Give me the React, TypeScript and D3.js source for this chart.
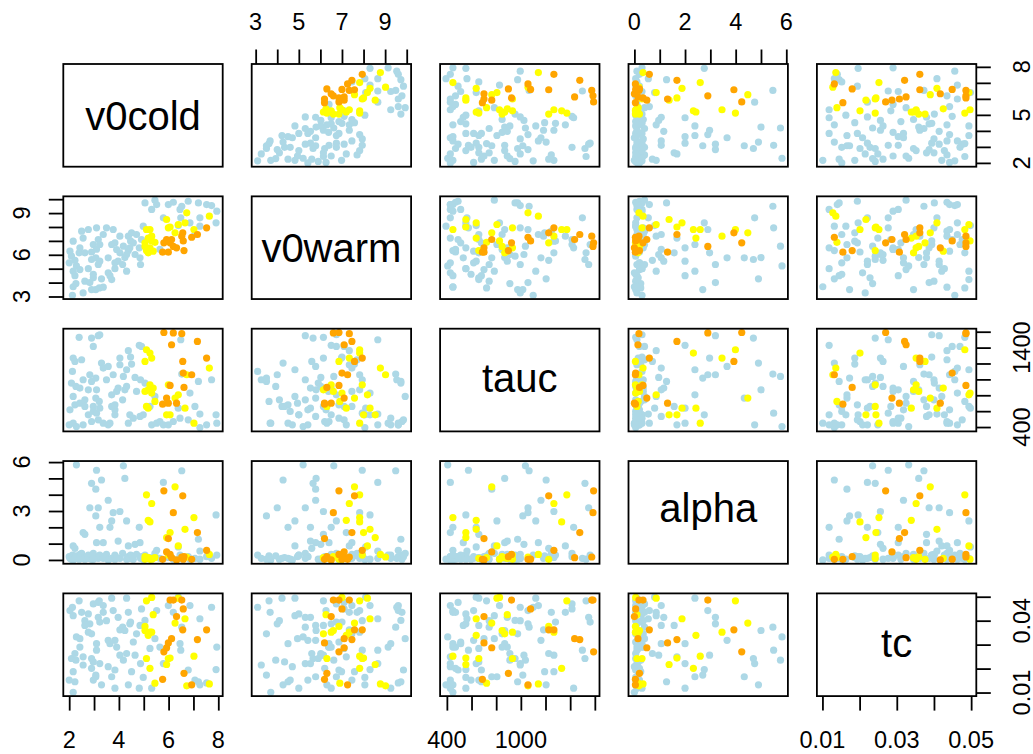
import React, { useRef, useEffect } from "react";
import * as d3 from "d3";

const varNames = ["v0cold", "v0warm", "tauc", "alpha", "tc"];

// 95 lightblue, 21 yellow, 15 orange
const group = (
  "bbbbbbbbbbbbbbbbbbb" +
  "bbbbbbbbbbbbbbbbbbbbbbbb" +
  "bbbbbbbbbbbbbbbbbbbbbbbb" +
  "bbbbbbbbbb" +
  "bbbbbbbbbb" +
  "bbbbbbbb" +
  "yyyyyyyyyyyyyyyyyyyyy" +
  "ooooooooooooooo"
).split("");

const v0cold = [
  2.0, 2.03, 2.09, 2.13, 2.16, 2.16, 2.16, 2.23, 2.23, 2.27, 2.29, 2.4, 2.43, 2.43, 2.5, 2.56, 2.56, 2.63, 2.63,
  2.77, 2.77, 2.83, 2.9, 2.9, 2.9, 2.97, 2.97, 2.97, 3.07, 3.07, 3.1, 3.1, 3.17, 3.17, 3.21, 3.23, 3.23, 3.3, 3.37, 3.37, 3.5, 3.57, 3.57,
  3.64, 3.71, 3.71, 3.77, 3.84, 3.84, 3.84, 3.91, 3.97, 4.04, 4.04, 4.15, 4.18, 4.24, 4.31, 4.31, 4.38, 4.38, 4.44, 4.47, 4.51, 4.58, 4.65, 4.71,
  4.82, 4.85, 4.87, 4.91, 4.98, 5.05, 5.32, 5.25, 5.45, 5.52,
  5.65, 5.79, 5.99, 6.19, 6.39, 6.46, 6.49, 6.53, 6.79, 6.86,
  7.06, 7.2, 7.26, 7.26, 7.53, 7.73, 7.91, 7.94,
  5.11, 5.25, 5.32, 5.05, 5.25, 5.38, 5.18, 5.05, 5.32, 5.11, 5.18, 5.45, 5.99, 5.92, 6.06, 6.26, 6.39, 6.66, 6.73, 7.02, 7.64,
  5.76, 5.81, 5.92, 5.99, 6.06, 6.12, 6.19, 6.32, 6.53, 6.57, 6.59, 6.62, 6.93, 7.16, 7.53,
];

const v0warm = [
  5.42, 6.26, 5.9, 3.09, 6.98, 4.82, 3.7, 5.6, 4.5, 3.93, 5.2, 6.14, 6.5, 4.94, 7.7, 3.26, 7.2, 4.1, 6.14,
  7.82, 5.0, 4.0, 5.66, 3.5, 6.2, 4.34, 6.74, 4.6, 5.78, 3.5, 7.94, 6.4, 5.3, 7.1, 3.62, 5.54, 6.74, 4.27, 7.46, 3.67, 7.94, 5.78, 4.7,
  4.5, 6.74, 4.22, 7.82, 5.42, 6.86, 5.0, 6.38, 5.54, 6.14, 7.34, 5.3, 6.62, 5.8, 4.82, 6.02, 7.34, 6.3, 6.5, 7.0, 7.58, 6.86, 6.02, 7.46,
  6.5, 5.78, 5.3, 7.1, 8.06, 9.73, 9.26, 7.1, 9.93, 9.61,
  6.4, 8.66, 9.61, 9.78, 8.1, 9.26, 8.66, 9.49, 9.85, 8.3,
  7.46, 9.73, 8.66, 8.06, 9.61, 9.54, 8.3, 9.14,
  7.82, 7.82, 7.34, 6.86, 6.5, 6.26, 6.14, 6.6, 7.0, 6.3, 7.2, 6.9, 7.94, 8.54, 8.0, 7.58, 8.18, 8.3, 9.02, 7.82, 8.78,
  6.19, 6.86, 7.1, 6.19, 6.86, 7.1, 6.6, 6.5, 7.34, 7.58, 7.0, 6.3, 7.26, 7.46, 7.94,
];

const tauc = [
  428, 617, 953, 1100, 1268, 785, 449, 1226, 680, 911, 407, 1529, 890, 701, 1247, 995, 428, 743, 659,
  869, 554, 1058, 1520, 974, 470, 659, 1415, 596, 764, 1016, 575, 869, 1550, 491, 722, 638, 1562, 1205, 1142, 449, 995, 1163, 428,
  449, 806, 659, 1058, 617, 680, 554, 848, 890, 1268, 1184, 743, 1037, 869, 1121, 911, 1361, 449, 554, 1281, 1193, 512, 1025, 848,
  1428, 533, 995, 1415, 554, 953, 428, 659, 785, 449,
  470, 428, 428, 470, 638, 512, 1499, 1067, 491, 827,
  659, 974, 563, 393, 428, 995, 554, 449,
  1373, 1331, 1268, 1226, 932, 890, 869, 848, 827, 659, 638, 722, 932, 554, 554, 764, 806, 638, 1058, 449, 1142,
  688, 1590, 764, 701, 924, 1436, 1585, 701, 1575, 1226, 1079, 899, 1058, 1478, 1268,
];

const alpha = [
  0.2, 0.1, 0.05, 0.3, 0.15, 0.86, 0.0, 0.71, 0.1, 0.25, 5.83, 0.05, 0.35, 0.2, 0.4, 0.1, 1.68, 0.05, 1.57,
  0.1, 0.3, 3.2, 4.7, 0.05, 0.2, 0.15, 0.4, 0.05, 4.34, 2.7, 5.5, 1.06, 3.2, 0.1, 0.25, 2.0, 0.3, 4.9, 1.06, 0.1, 0.35, 3.66, 0.0,
  2.0, 2.39, 0.1, 2.9, 0.2, 0.05, 0.3, 0.15, 1.16, 2.97, 0.1, 0.4, 5.77, 5.0, 2.39, 0.05, 0.86, 0.2, 0.1, 0.3, 0.25, 0.05, 0.96, 0.35,
  2.0, 1.06, 0.1, 0.2, 0.05, 0.3, 0.1, 0.15, 0.4, 0.59,
  0.1, 4.75, 0.15, 0.05, 0.8, 0.3, 0.1, 5.47, 0.2, 0.05,
  0.1, 1.27, 0.55, 0.05, 0.2, 0.1, 2.76, 0.3,
  3.99, 2.33, 3.46, 0.04, 0.04, 0.1, 0.14, 0.2, 0.05, 0.1, 2.43, 0.15, 0.3, 1.37, 1.68, 4.48, 0.86, 1.88, 0.18, 2.6, 0.34,
  0.04, 4.24, 0.49, 1.31, 0.34, 0.14, 2.9, 0.0, 0.18, 3.93, 0.05, 0.2, 0.04, 1.68, 0.59,
];

const tc = [
  0.0152, 0.0442, 0.0242, 0.0456, 0.0187, 0.0421, 0.0101, 0.0263, 0.0145, 0.0235, 0.0332, 0.0483, 0.029, 0.0325, 0.0435, 0.0215, 0.0249, 0.04, 0.038,
  0.0352, 0.0428, 0.0387, 0.0242, 0.0345, 0.0201, 0.0228, 0.047, 0.0152, 0.0166, 0.0173, 0.0277, 0.0304, 0.0414, 0.0476, 0.0483, 0.0221, 0.0394, 0.0132, 0.0463, 0.0435, 0.04, 0.0318, 0.0208,
  0.0304, 0.0166, 0.0494, 0.0442, 0.0318, 0.0194, 0.0118, 0.029, 0.0414, 0.0256, 0.0362, 0.0373, 0.0235, 0.0359, 0.0494, 0.0263, 0.0435, 0.0132, 0.0387, 0.0394, 0.0187, 0.0311, 0.0256, 0.0345,
  0.0118, 0.038, 0.0221, 0.0449, 0.0163, 0.0401, 0.0118, 0.0284, 0.0325, 0.0442,
  0.029, 0.0221, 0.0463, 0.0435, 0.0498, 0.0304, 0.0277, 0.0373, 0.0194, 0.0463,
  0.0152, 0.0145, 0.0408, 0.0132, 0.014, 0.0456, 0.0196, 0.029,
  0.0483, 0.0201, 0.0352, 0.0376, 0.0352, 0.0425, 0.0345, 0.0359, 0.0497, 0.0242, 0.0339, 0.0139, 0.0242, 0.0217, 0.0244, 0.039, 0.0494, 0.0408, 0.0128, 0.0252, 0.0136,
  0.0155, 0.027, 0.0287, 0.0307, 0.0486, 0.0325, 0.0486, 0.0417, 0.0486, 0.0362, 0.0449, 0.018, 0.0132, 0.0321, 0.0362,
];

// tick marks per variable
const ticks = [
  [2, 3, 4, 5, 6, 7, 8],
  [3, 4, 5, 6, 7, 8, 9, 10],
  [400, 600, 800, 1000, 1200, 1400, 1600],
  [0, 1, 2, 3, 4, 5, 6],
  [0.01, 0.02, 0.03, 0.04, 0.05],
];
// labels shown on horizontal axes (top / bottom)
const hLabels = [[2, 4, 6, 8], [3, 5, 7, 9], [400, 1000], [0, 2, 4, 6], [0.01, 0.03, 0.05]];
// labels shown on vertical axes (left / right)
const vLabels = [[2, 5, 8], [3, 6, 9], [400, 1400], [0, 3, 6], [0.01, 0.04]];

const colorOf: Record<string, string> = { b: "#ADD8E6", y: "#FFFF00", o: "#FFA500" };

const PairsChart: React.FC = () => {
  const ref = useRef<SVGSVGElement | null>(null);

  useEffect(() => {
    if (!ref.current) return;
    const svg = d3.select(ref.current);
    svg.selectAll("*").remove();

    const cols = [v0cold, v0warm, tauc, alpha, tc];
    const n = cols.length;
    const left = 63.3, top = 64, pw = 159.4, ph = 102.7, gx = 188.4, gy = 132.35;
    const font = "'Liberation Sans', Arial, Helvetica, sans-serif";
    const lw = 1.8;

    // R-style 4% padding around the data range
    const domains = cols.map((c) => {
      const [lo, hi] = d3.extent(c) as [number, number];
      const pad = (hi - lo) * 0.04;
      return [lo - pad, hi + pad];
    });
    const xs = domains.map((d, j) =>
      d3.scaleLinear().domain(d).range([left + j * gx, left + j * gx + pw])
    );
    const ys = domains.map((d, i) =>
      d3.scaleLinear().domain(d).range([top + i * gy + ph, top + i * gy])
    );

    const idx = d3.range(v0cold.length);
    const labelDy = [14.6, 14, 12.3, 9.4, 12];

    for (let i = 0; i < n; i++) {
      for (let j = 0; j < n; j++) {
        const g = svg.append("g");
        if (i === j) {
          g.append("text")
            .attr("x", left + j * gx + pw / 2)
            .attr("y", top + i * gy + ph / 2 + labelDy[i])
            .attr("text-anchor", "middle")
            .attr("font-family", font)
            .attr("font-size", 40)
            .text(varNames[i]);
        } else {
          g.selectAll("circle")
            .data(idx)
            .enter()
            .append("circle")
            .attr("cx", (k) => xs[j](cols[j][k]))
            .attr("cy", (k) => ys[i](cols[i][k]))
            .attr("r", 3.6)
            .attr("fill", (k) => colorOf[group[k]]);
        }
        g.append("rect")
          .attr("x", left + j * gx)
          .attr("y", top + i * gy)
          .attr("width", pw)
          .attr("height", ph)
          .attr("fill", "none")
          .attr("stroke", "#000")
          .attr("stroke-width", lw);
      }
    }

    const styleAxis = (ag: any) => {
      ag.select(".domain").remove();
      ag.selectAll(".tick line").attr("stroke", "#000").attr("stroke-width", lw);
      ag.selectAll(".tick text").remove();
    };
    const tickLen = 14.5;
    const bottomY = top + (n - 1) * gy + ph;
    const rightX = left + (n - 1) * gx + pw;

    for (let j = 0; j < n; j++) {
      const onTop = j % 2 === 1;
      const ag = svg
        .append("g")
        .attr("transform", `translate(0,${onTop ? top : bottomY})`)
        .call(
          (onTop ? d3.axisTop(xs[j]) : d3.axisBottom(xs[j]))
            .tickValues(ticks[j])
            .tickSize(tickLen)
            .tickSizeOuter(0)
        );
      styleAxis(ag);
      hLabels[j].forEach((v) => {
        svg
          .append("text")
          .attr("x", xs[j](v))
          .attr("y", onTop ? 30 : 748)
          .attr("text-anchor", "middle")
          .attr("font-family", font)
          .attr("font-size", 23.5)
          .text(String(v));
      });
    }

    for (let i = 0; i < n; i++) {
      const onLeft = i % 2 === 1;
      const ag = svg
        .append("g")
        .attr("transform", `translate(${onLeft ? left : rightX},0)`)
        .call(
          (onLeft ? d3.axisLeft(ys[i]) : d3.axisRight(ys[i]))
            .tickValues(ticks[i])
            .tickSize(tickLen)
            .tickSizeOuter(0)
        );
      styleAxis(ag);
      vLabels[i].forEach((v) => {
        const x = onLeft ? 29.5 : 1029.5;
        svg
          .append("text")
          .attr("transform", `translate(${x},${ys[i](v)}) rotate(-90)`)
          .attr("text-anchor", "middle")
          .attr("font-family", font)
          .attr("font-size", 23.5)
          .text(String(v));
      });
    }
  }, []);

  return (
    <svg
      ref={ref}
      width={1033}
      height={754}
      style={{ position: "absolute", left: 0, top: 0, background: "#fff" }}
    />
  );
};

export default function App() {
  return <PairsChart />;
}
